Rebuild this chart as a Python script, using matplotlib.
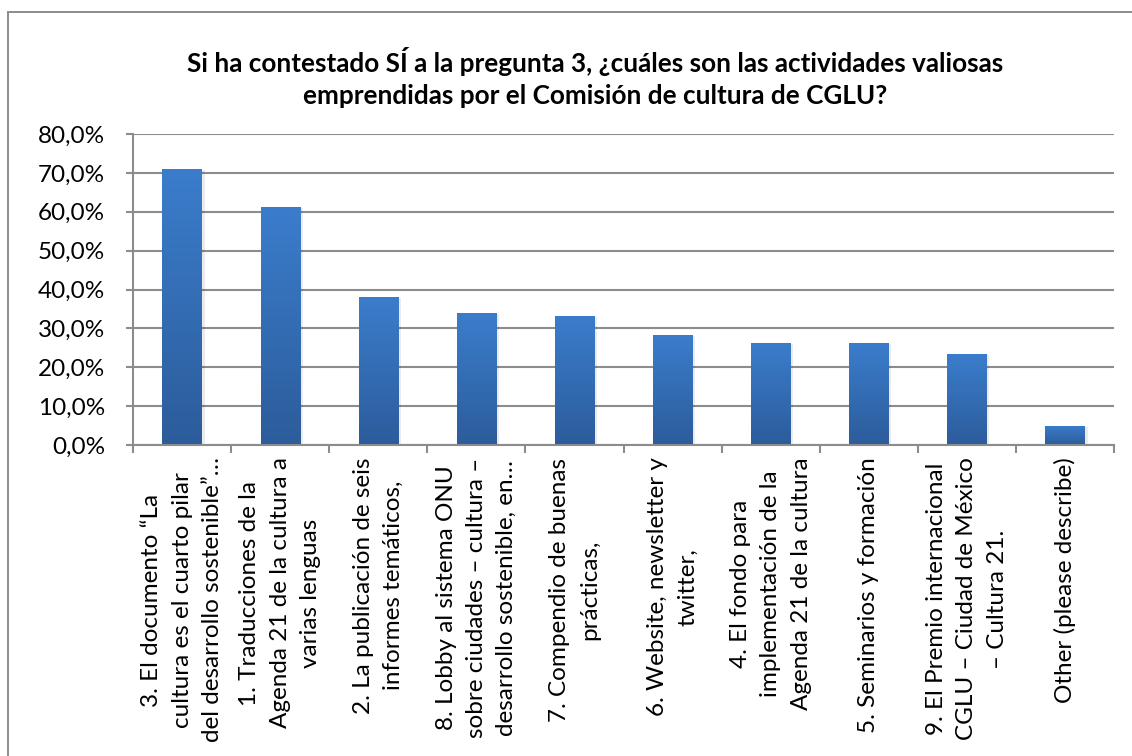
import numpy as np
import matplotlib
matplotlib.use("Agg")
import matplotlib.pyplot as plt
from matplotlib.patches import Rectangle
from matplotlib.colors import LinearSegmentedColormap
from matplotlib.ticker import FuncFormatter

plt.rcParams['font.family'] = ['Lato', 'DejaVu Sans']

titulo = ("Si ha contestado SÍ a la pregunta 3, ¿cuáles son las actividades valiosas\n"
          "emprendidas por el Comisión de cultura de CGLU?")

categorias = [
    "3. El documento “La\ncultura es el cuarto pilar\ndel desarrollo sostenible”…",
    "1. Traducciones de la\nAgenda 21 de la cultura a\nvarias lenguas",
    "2. La publicación de seis\ninformes temáticos,",
    "8. Lobby al sistema ONU\nsobre ciudades – cultura –\ndesarrollo sostenible, en…",
    "7. Compendio de buenas\nprácticas,",
    "6. Website, newsletter y\ntwitter,",
    "4. El fondo para\nimplementación de la\nAgenda 21 de la cultura",
    "5. Seminarios y formación",
    "9. El Premio internacional\nCGLU – Ciudad de México\n– Cultura 21.",
    "Other (please describe)",
]
valores = [71.0, 61.2, 38.0, 33.9, 33.2, 28.3, 26.2, 26.2, 23.4, 4.9]
y_ticks = [0, 10, 20, 30, 40, 50, 60, 70, 80]

W, H = 1132, 756
fig = plt.figure(figsize=(W / 100, H / 100), dpi=100)
fig.patch.set_facecolor('white')

# marco del gráfico (se sale por la derecha y abajo)
fig.patches.append(Rectangle((8 / W, -0.1), 1.2, 1 - 12 / H + 0.1,
                             transform=fig.transFigure, fill=False,
                             edgecolor='#8c8c8c', linewidth=1.4))

fig.text(595 / W, 1 - 77 / H, titulo, ha='center', va='center',
         fontsize=18.8, fontweight='bold', linespacing=1.4)

ax = fig.add_axes([133 / W, 1 - 445 / H, 981 / W, 311 / H])
x = np.arange(len(valores))

gris = '#8c8c8c'
ax.set_ylim(0, 80)
ax.set_xlim(-0.5, len(valores) - 0.5)
ax.set_yticks(y_ticks)
ax.yaxis.set_major_formatter(FuncFormatter(lambda v, p: f"{v:.1f}%".replace('.', ',')))
ax.grid(axis='y', color=gris, linewidth=1.5)
ax.set_axisbelow(True)

for s in ['top', 'right']:
    ax.spines[s].set_visible(False)
for s in ['left', 'bottom']:
    ax.spines[s].set_color(gris)
    ax.spines[s].set_linewidth(1.5)

cmap = LinearSegmentedColormap.from_list('azul', ['#2c5c9b', '#3b7dcc'])
grad = np.linspace(0, 1, 256).reshape(-1, 1)
barras = ax.bar(x, valores, width=0.4, color='none', zorder=2)
for b in barras:
    x0, w, h = b.get_x(), b.get_width(), b.get_height()
    # sombra suave
    ax.add_patch(Rectangle((x0 + 0.02, 0), w + 0.01, h - 0.3, color='#000000',
                           alpha=0.08, zorder=1.5, linewidth=0))
    im = ax.imshow(grad, cmap=cmap, origin='lower', aspect='auto',
                   extent=(x0, x0 + w, 0, h), zorder=2)
    im.set_clip_path(b)
ax.set_xlim(-0.5, len(valores) - 0.5)
ax.set_ylim(0, 80)

ax.set_xticks(x)
ax.set_xticklabels(categorias, rotation=90, ha='center', va='top',
                   multialignment='center', fontsize=17.5, linespacing=1.55)
ax.set_xticks(np.arange(-0.5, len(valores)), minor=True)
ax.tick_params(axis='x', which='major', length=0, pad=9)
ax.tick_params(axis='x', which='minor', length=6, width=1.5, color=gris)
ax.tick_params(axis='y', length=5, width=1.5, color=gris, labelsize=17.5, pad=15)

fig.savefig('out.png', dpi=100)
